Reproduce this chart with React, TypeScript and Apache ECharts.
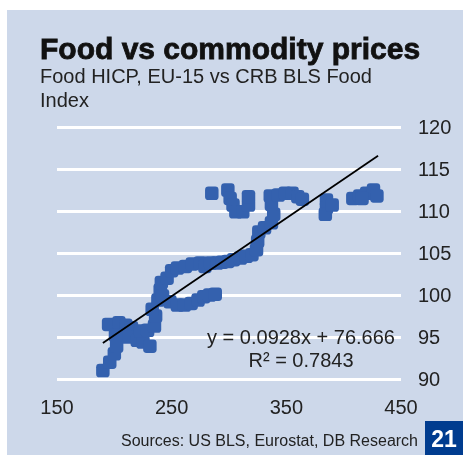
import React, { useEffect, useRef } from "react";
import * as echarts from "echarts";

// CRB BLS Food Index (x) vs Food HICP EU-15 (y)
const crbFood = [190, 196, 200, 202, 195, 204, 210, 215, 212, 220, 225, 231, 223, 229, 235, 236, 233, 238, 240, 241, 246, 250, 255, 262, 268, 275, 279, 284, 289.5, 294, 299, 304, 310, 315, 320, 324, 325, 326, 331, 337, 339, 337, 336, 343, 349, 355, 360, 364, 385, 385, 384, 390, 408, 414, 420, 426, 429, 416, 285, 299, 301, 303.5, 306, 312, 317, 317, 242, 248.5, 255, 261, 267, 273, 278, 283, 288, 201];
const foodHicp = [91.0, 92.0, 93.0, 93.9, 96.5, 96.7, 96.4, 96.1, 95.0, 94.6, 94.4, 93.9, 95.7, 95.8, 96.3, 97.5, 98.3, 99.4, 100.6, 101.5, 102.0, 102.9, 103.2, 103.4, 103.7, 103.8, 103.4, 103.8, 103.8, 103.9, 104.0, 104.2, 104.4, 104.6, 104.8, 105.4, 106.4, 107.5, 108.0, 108.6, 109.6, 110.8, 111.8, 111.9, 112.1, 112.1, 111.7, 111.4, 111.3, 110.4, 109.6, 110.7, 111.5, 111.8, 112.1, 112.5, 111.8, 111.5, 112.1, 112.5, 111.5, 110.7, 109.9, 109.9, 110.7, 111.7, 99.9, 99.2, 98.8, 98.8, 99.0, 99.4, 99.8, 100.0, 100.1, 95.2];

const trendSlope = 0.0928;
const trendIntercept = 76.666;
const trendRangeX = [190, 430];
const rSquared = 0.7843;

const xTicks = { min: 150, max: 450, interval: 100 };
const yTicks = { min: 90, max: 120, interval: 5 };

const FONT = "'Liberation Sans', Arial, sans-serif";

export default function App() {
  const ref = useRef<HTMLDivElement>(null);
  useEffect(() => {
    if (!ref.current) return;
    const chart = echarts.init(ref.current, undefined, { renderer: "svg" });
    const points = crbFood.map((x, i) => [x, foodHicp[i]]);
    const trend = trendRangeX.map((x) => [x, trendSlope * x + trendIntercept]);
    chart.setOption({
      animation: false,
      graphic: [
        { type: "rect", shape: { x: 7, y: 10, width: 456, height: 445 }, style: { fill: "#cdd8ea" }, z: -10 },
        { type: "rect", shape: { x: 425, y: 421, width: 38, height: 34 }, style: { fill: "#003c8f" }, z: 10 },
        { type: "text", x: 444, y: 439, style: { text: "21", fill: "#ffffff", font: `bold 23px ${FONT}`, align: "center", verticalAlign: "middle" }, z: 11 },
        { type: "text", x: 40, y: 48, style: { text: "Food vs commodity prices", fill: "#111111", font: `bold 30px ${FONT}`, verticalAlign: "middle", stroke: "#111111", lineWidth: 0.8 }, z: 10 },
        { type: "text", x: 40, y: 76, style: { text: "Food HICP, EU-15 vs CRB BLS Food", fill: "#222222", font: `20px ${FONT}`, verticalAlign: "middle" }, z: 10 },
        { type: "text", x: 40, y: 100, style: { text: "Index", fill: "#222222", font: `20px ${FONT}`, verticalAlign: "middle" }, z: 10 },
        { type: "text", x: 301, y: 337, style: { text: `y = ${trendSlope}x + ${trendIntercept}`, fill: "#222222", font: `20px ${FONT}`, align: "center", verticalAlign: "middle" }, z: 10 },
        { type: "text", x: 301, y: 360, style: { text: `R² = ${rSquared}`, fill: "#222222", font: `20px ${FONT}`, align: "center", verticalAlign: "middle" }, z: 10 },
        { type: "text", x: 418, y: 440, style: { text: "Sources: US BLS, Eurostat, DB Research", fill: "#222222", font: `16px ${FONT}`, align: "right", verticalAlign: "middle" }, z: 10 },
      ],
      grid: { left: 57, right: 62, top: 127, bottom: 76, outerBoundsMode: "none", containLabel: false },
      xAxis: {
        type: "value",
        min: xTicks.min,
        max: xTicks.max,
        interval: xTicks.interval,
        axisLine: { show: false },
        axisTick: { show: false },
        splitLine: { show: false },
        axisLabel: { color: "#222222", fontSize: 20, fontFamily: FONT, margin: 18 },
      },
      yAxis: {
        type: "value",
        position: "right",
        min: yTicks.min,
        max: yTicks.max,
        interval: yTicks.interval,
        axisLine: { show: false },
        axisTick: { show: false },
        splitLine: { show: true, lineStyle: { color: "#ffffff", width: 3 } },
        axisLabel: { color: "#222222", fontSize: 20, fontFamily: FONT, margin: 17, align: "left" },
      },
      series: [
        {
          type: "scatter",
          data: points,
          symbol: "roundRect",
          symbolSize: 13.5,
          itemStyle: { color: "#3461ae", opacity: 1 },
          z: 2,
        },
        {
          type: "line",
          data: trend,
          showSymbol: false,
          symbol: "none",
          lineStyle: { color: "#000000", width: 1.8 },
          z: 3,
        },
      ],
    });
    return () => chart.dispose();
  }, []);
  return <div ref={ref} style={{ position: "fixed", left: 0, top: 0, width: 463, height: 455 }} />;
}
